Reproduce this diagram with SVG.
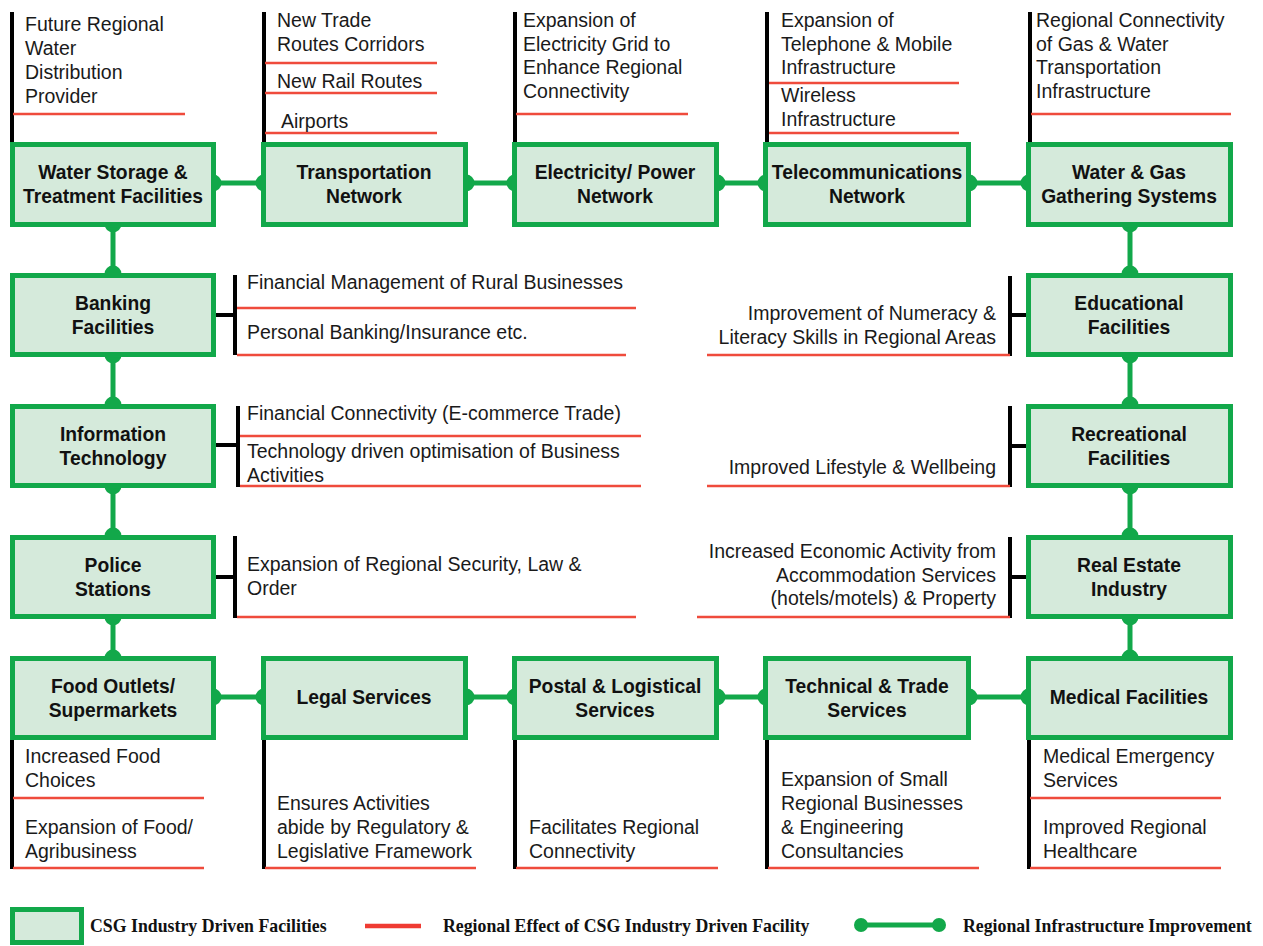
<svg xmlns="http://www.w3.org/2000/svg" width="1263" height="946" viewBox="0 0 1263 946">
<style>
.box{fill:#d5eadb;stroke:#12a84a;stroke-width:5}
.lbl{font-family:"Liberation Sans",Arial,sans-serif;font-weight:bold;font-size:19.3px;fill:#111;text-anchor:middle}
.t{font-family:"Liberation Sans",Arial,sans-serif;font-size:19.5px;fill:#1a1a1a}
.te{font-family:"Liberation Sans",Arial,sans-serif;font-size:19.5px;fill:#1a1a1a;text-anchor:end}
.bar{stroke:#000;stroke-width:4;fill:none}
.red{stroke:#ef4b3c;stroke-width:2.5;fill:none}
.con{stroke:#12a84a;stroke-width:5;fill:none}
.dot{fill:#12a84a}
.leg{font-family:"Liberation Serif","Times New Roman",serif;font-weight:bold;font-size:17.8px;fill:#111}
</style>
<rect width="1263" height="946" fill="#fff"/>

<g id="connectors">
<path class="con" d="M213 183H264M466 183H515M717 183H766M969 183H1029"/>
<path class="con" d="M213 697H264M466 697H515M717 697H766M969 697H1029"/>
<path class="con" d="M113 224V274M113 355V405M113 486V536M113 617V658"/>
<path class="con" d="M1130 224V274M1130 355V405M1130 486V536M1130 617V658"/>
<g class="dot">
<circle cx="213" cy="183" r="8.5"/><circle cx="264" cy="183" r="8.5"/>
<circle cx="466" cy="183" r="8.5"/><circle cx="515" cy="183" r="8.5"/>
<circle cx="717" cy="183" r="8.5"/><circle cx="766" cy="183" r="8.5"/>
<circle cx="969" cy="183" r="8.5"/><circle cx="1029" cy="183" r="8.5"/>
<circle cx="213" cy="697" r="8.5"/><circle cx="264" cy="697" r="8.5"/>
<circle cx="466" cy="697" r="8.5"/><circle cx="515" cy="697" r="8.5"/>
<circle cx="717" cy="697" r="8.5"/><circle cx="766" cy="697" r="8.5"/>
<circle cx="969" cy="697" r="8.5"/><circle cx="1029" cy="697" r="8.5"/>
<circle cx="113" cy="224" r="8.5"/><circle cx="113" cy="274" r="8.5"/>
<circle cx="113" cy="355" r="8.5"/><circle cx="113" cy="405" r="8.5"/>
<circle cx="113" cy="486" r="8.5"/><circle cx="113" cy="536" r="8.5"/>
<circle cx="113" cy="617" r="8.5"/><circle cx="113" cy="658" r="8.5"/>
<circle cx="1130" cy="224" r="8.5"/><circle cx="1130" cy="274" r="8.5"/>
<circle cx="1130" cy="355" r="8.5"/><circle cx="1130" cy="405" r="8.5"/>
<circle cx="1130" cy="486" r="8.5"/><circle cx="1130" cy="536" r="8.5"/>
<circle cx="1130" cy="617" r="8.5"/><circle cx="1130" cy="658" r="8.5"/>
</g>
</g>

<g id="effects">
<path class="bar" d="M12 12V143M264 12V143M515 12V143M767 12V143M1030 12V143"/>
<path class="red" d="M13 114H185M265 63H437M265 93H437M265 133H437M516 114H688M769 83H959M769 133H959M1031 114H1231"/>
<text class="t" x="25" y="31">Future Regional</text>
<text class="t" x="25" y="55">Water</text>
<text class="t" x="25" y="79">Distribution</text>
<text class="t" x="25" y="103">Provider</text>
<text class="t" x="277" y="27">New Trade</text>
<text class="t" x="277" y="51">Routes Corridors</text>
<text class="t" x="277" y="88">New Rail Routes</text>
<text class="t" x="281" y="128">Airports</text>
<text class="t" x="523" y="27">Expansion of</text>
<text class="t" x="523" y="51">Electricity Grid to</text>
<text class="t" x="523" y="74">Enhance Regional</text>
<text class="t" x="523" y="98">Connectivity</text>
<text class="t" x="781" y="27">Expansion of</text>
<text class="t" x="781" y="51">Telephone &amp; Mobile</text>
<text class="t" x="781" y="74">Infrastructure</text>
<text class="t" x="781" y="102">Wireless</text>
<text class="t" x="781" y="126">Infrastructure</text>
<text class="t" x="1036" y="27">Regional Connectivity</text>
<text class="t" x="1036" y="51">of Gas &amp; Water</text>
<text class="t" x="1036" y="74">Transportation</text>
<text class="t" x="1036" y="98">Infrastructure</text>

<path class="bar" d="M235 275V355M214 315H235M238 406V487M214 445H238M235 536V618M214 577H235"/>
<path class="red" d="M237 308H636M237 355H626M240 436H641M240 486H641M237 617H636"/>
<text class="t" x="247" y="289">Financial Management of Rural Businesses</text>
<text class="t" x="247" y="339">Personal Banking/Insurance etc.</text>
<text class="t" x="247" y="420">Financial Connectivity (E-commerce Trade)</text>
<text class="t" x="247" y="458">Technology driven optimisation of Business</text>
<text class="t" x="247" y="482">Activities</text>
<text class="t" x="247" y="571">Expansion of Regional Security, Law &amp;</text>
<text class="t" x="247" y="595">Order</text>

<path class="bar" d="M1010 276V356M1010 315H1028M1010 406V487M1010 446H1028M1010 537V618M1010 577H1028"/>
<path class="red" d="M707 355H1010M707 486H1010M697 617H1010"/>
<text class="te" x="996" y="320">Improvement of Numeracy &amp;</text>
<text class="te" x="996" y="344">Literacy Skills in Regional Areas</text>
<text class="te" x="996" y="474">Improved Lifestyle &amp; Wellbeing</text>
<text class="te" x="996" y="558">Increased Economic Activity from</text>
<text class="te" x="996" y="582">Accommodation Services</text>
<text class="te" x="996" y="605">(hotels/motels) &amp; Property</text>

<path class="bar" d="M12 739V869M264 739V869M515 739V869M767 739V869M1029 739V869"/>
<path class="red" d="M13 798H204M13 868H204M265 868H476M516 868H718M768 868H979M1030 798H1221M1030 868H1221"/>
<text class="t" x="25" y="763">Increased Food</text>
<text class="t" x="25" y="787">Choices</text>
<text class="t" x="25" y="834">Expansion of Food/</text>
<text class="t" x="25" y="858">Agribusiness</text>
<text class="t" x="277" y="810">Ensures Activities</text>
<text class="t" x="277" y="834">abide by Regulatory &amp;</text>
<text class="t" x="277" y="858">Legislative Framework</text>
<text class="t" x="529" y="834">Facilitates Regional</text>
<text class="t" x="529" y="858">Connectivity</text>
<text class="t" x="781" y="786">Expansion of Small</text>
<text class="t" x="781" y="810">Regional Businesses</text>
<text class="t" x="781" y="834">&amp; Engineering</text>
<text class="t" x="781" y="858">Consultancies</text>
<text class="t" x="1043" y="763">Medical Emergency</text>
<text class="t" x="1043" y="787">Services</text>
<text class="t" x="1043" y="834">Improved Regional</text>
<text class="t" x="1043" y="858">Healthcare</text>
</g>

<g id="n-water-storage"><rect class="box" x="12.5" y="144.5" width="201" height="80"/><text class="lbl" x="113" y="179">Water Storage &amp;</text><text class="lbl" x="113" y="203">Treatment Facilities</text></g>
<g id="n-transport"><rect class="box" x="263.5" y="144.5" width="202" height="80"/><text class="lbl" x="364" y="179">Transportation</text><text class="lbl" x="364" y="203">Network</text></g>
<g id="n-electricity"><rect class="box" x="514.5" y="144.5" width="202" height="80"/><text class="lbl" x="615" y="179">Electricity/ Power</text><text class="lbl" x="615" y="203">Network</text></g>
<g id="n-telecom"><rect class="box" x="765.5" y="144.5" width="203" height="80"/><text class="lbl" x="867" y="179">Telecommunications</text><text class="lbl" x="867" y="203">Network</text></g>
<g id="n-water-gas"><rect class="box" x="1028.5" y="144.5" width="202" height="80"/><text class="lbl" x="1129" y="179">Water &amp; Gas</text><text class="lbl" x="1129" y="203">Gathering Systems</text></g>

<g id="n-banking"><rect class="box" x="12.5" y="275.5" width="201" height="79"/><text class="lbl" x="113" y="310">Banking</text><text class="lbl" x="113" y="334">Facilities</text></g>
<g id="n-it"><rect class="box" x="12.5" y="406.5" width="201" height="79"/><text class="lbl" x="113" y="441">Information</text><text class="lbl" x="113" y="465">Technology</text></g>
<g id="n-police"><rect class="box" x="12.5" y="537.5" width="201" height="79"/><text class="lbl" x="113" y="572">Police</text><text class="lbl" x="113" y="596">Stations</text></g>

<g id="n-education"><rect class="box" x="1028.5" y="275.5" width="202" height="79"/><text class="lbl" x="1129" y="310">Educational</text><text class="lbl" x="1129" y="334">Facilities</text></g>
<g id="n-recreation"><rect class="box" x="1028.5" y="406.5" width="202" height="79"/><text class="lbl" x="1129" y="441">Recreational</text><text class="lbl" x="1129" y="465">Facilities</text></g>
<g id="n-realestate"><rect class="box" x="1028.5" y="537.5" width="202" height="79"/><text class="lbl" x="1129" y="572">Real Estate</text><text class="lbl" x="1129" y="596">Industry</text></g>

<g id="n-food"><rect class="box" x="12.5" y="658.5" width="201" height="79"/><text class="lbl" x="113" y="693">Food Outlets/</text><text class="lbl" x="113" y="717">Supermarkets</text></g>
<g id="n-legal"><rect class="box" x="263.5" y="658.5" width="202" height="79"/><text class="lbl" x="364" y="704">Legal Services</text></g>
<g id="n-postal"><rect class="box" x="514.5" y="658.5" width="202" height="79"/><text class="lbl" x="615" y="693">Postal &amp; Logistical</text><text class="lbl" x="615" y="717">Services</text></g>
<g id="n-technical"><rect class="box" x="765.5" y="658.5" width="203" height="79"/><text class="lbl" x="867" y="693">Technical &amp; Trade</text><text class="lbl" x="867" y="717">Services</text></g>
<g id="n-medical"><rect class="box" x="1028.5" y="658.5" width="202" height="79"/><text class="lbl" x="1129" y="704">Medical Facilities</text></g>

<g id="legend">
<rect class="box" x="12.5" y="909.5" width="69" height="33"/>
<text class="leg" x="90" y="932">CSG Industry Driven Facilities</text>
<line x1="365" y1="926" x2="421" y2="926" stroke="#ef3b33" stroke-width="4.5"/>
<text class="leg" x="443" y="932">Regional Effect of CSG Industry Driven Facility</text>
<line x1="861" y1="925" x2="939" y2="925" stroke="#12a84a" stroke-width="5"/>
<circle class="dot" cx="861" cy="925" r="7"/>
<circle class="dot" cx="939" cy="925" r="7"/>
<text class="leg" x="963" y="932">Regional Infrastructure Improvement</text>
</g>
</svg>
